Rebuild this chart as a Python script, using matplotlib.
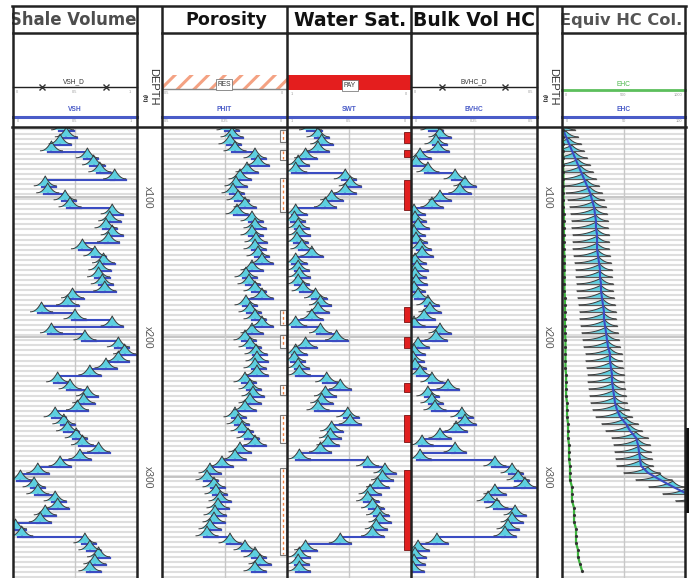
import numpy as np
import matplotlib.pyplot as plt
from matplotlib.patches import Rectangle
from matplotlib.transforms import blended_transform_factory

plt.rcParams['font.family'] = ['Liberation Sans', 'DejaVu Sans']
plt.rcParams['hatch.linewidth'] = 2.2
plt.rcParams['hatch.color'] = '#f4a283'

# ---- data (depth in ft, one reading every 5 ft) ----
depth = [52, 57, 62, 67, 72, 77, 82, 87,
         92, 97, 102, 107, 112, 117, 122, 127,
         132, 137, 142, 147, 152, 157, 162, 167,
         172, 177, 182, 187, 192, 197, 202, 207,
         212, 217, 222, 227, 232, 237, 242, 247,
         252, 257, 262, 267, 272, 277, 282, 287,
         292, 297, 302, 307, 312, 317, 322, 327,
         332, 337, 342, 347, 352, 357, 362, 367]

vsh = [0.40, 0.43, 0.38, 0.31, 0.60, 0.65, 0.70, 0.82,
       0.26, 0.28, 0.42, 0.46, 0.80, 0.78, 0.75, 0.80,
       0.77, 0.56, 0.66, 0.73, 0.70, 0.69, 0.72, 0.74,
       0.48, 0.44, 0.23, 0.50, 0.80, 0.31, 0.58, 0.85,
       0.90, 0.85, 0.75, 0.62, 0.36, 0.46, 0.60, 0.57,
       0.52, 0.34, 0.41, 0.44, 0.51, 0.56, 0.69, 0.54,
       0.38, 0.20, 0.06, 0.17, 0.20, 0.34, 0.36, 0.26,
       0.22, 0.02, 0.07, 0.58, 0.62, 0.69, 0.66, 0.62]

phit = [0.236, 0.220, 0.228, 0.208, 0.128, 0.116, 0.160, 0.188,
        0.204, 0.216, 0.196, 0.168, 0.200, 0.140, 0.128, 0.140,
        0.124, 0.128, 0.116, 0.100, 0.140, 0.164, 0.152, 0.128,
        0.100, 0.164, 0.148, 0.128, 0.100, 0.140, 0.168, 0.148,
        0.124, 0.120, 0.128, 0.120, 0.168, 0.148, 0.136, 0.148,
        0.168, 0.208, 0.196, 0.180, 0.156, 0.128, 0.188, 0.208,
        0.260, 0.308, 0.320, 0.292, 0.284, 0.268, 0.276, 0.288,
        0.292, 0.308, 0.320, 0.228, 0.168, 0.128, 0.108, 0.128]

swt = [0.81, 0.75, 0.72, 0.75, 0.85, 0.91, 0.93, 0.53,
       0.49, 0.53, 0.64, 0.69, 0.93, 0.94, 0.91, 0.90,
       0.92, 0.88, 0.80, 0.93, 0.91, 0.90, 0.91, 0.87,
       0.77, 0.73, 0.75, 0.80, 0.93, 0.73, 0.60, 0.85,
       0.93, 0.94, 0.91, 0.90, 0.68, 0.57, 0.69, 0.72,
       0.75, 0.51, 0.49, 0.64, 0.65, 0.67, 0.73, 0.90,
       0.35, 0.21, 0.23, 0.27, 0.33, 0.35, 0.31, 0.27,
       0.25, 0.28, 0.31, 0.57, 0.85, 0.90, 0.91, 0.90]

bvhc = [0.083, 0.115, 0.099, 0.107, 0.036, 0.020, 0.067, 0.175,
        0.214, 0.194, 0.115, 0.083, 0.012, 0.016, 0.028, 0.012,
        0.020, 0.036, 0.044, 0.016, 0.024, 0.016, 0.020, 0.012,
        0.028, 0.067, 0.075, 0.052, 0.012, 0.115, 0.099, 0.028,
        0.012, 0.008, 0.016, 0.036, 0.083, 0.147, 0.067, 0.083,
        0.095, 0.202, 0.214, 0.179, 0.115, 0.044, 0.175, 0.036,
        0.333, 0.401, 0.425, 0.452, 0.333, 0.306, 0.341, 0.413,
        0.401, 0.385, 0.373, 0.103, 0.028, 0.016, 0.012, 0.008]

ehc = [0.8, 3.3, 5.7, 8.1, 10.6, 13.0, 15.4, 17.9,
       20.3, 22.8, 24.4, 26.0, 26.8, 27.6, 27.6, 28.5,
       28.5, 28.5, 29.3, 30.1, 30.9, 30.9, 31.7, 31.7,
       32.5, 33.3, 34.1, 34.1, 35.0, 35.8, 36.6, 37.4,
       39.0, 39.0, 39.8, 40.7, 40.7, 41.5, 42.3, 43.1,
       44.7, 47.2, 52.0, 55.3, 60.2, 61.8, 62.6, 63.4,
       64.2, 69.9, 79.7, 90.2, 101.6, 112, 122, 133,
       143, 153, 163, 174, 185, 195, 205, 215]

ehc_green = [0.8, 0.8, 0.8, 0.8, 0.8, 0.8, 1.2, 1.2,
             1.2, 1.2, 1.2, 1.2, 1.6, 1.6, 1.6, 1.6,
             1.6, 1.6, 2.0, 2.0, 2.0, 2.0, 2.0, 2.0,
             2.4, 2.4, 2.4, 2.4, 2.4, 2.4, 2.8, 2.8,
             2.8, 2.8, 2.8, 3.3, 3.3, 3.3, 3.3, 4.1,
             4.1, 4.1, 4.9, 4.9, 4.9, 5.7, 5.7, 5.7,
             6.5, 6.5, 6.5, 8.1, 8.1, 8.1, 9.8, 9.8,
             9.8, 11.4, 11.4, 11.4, 13.0, 13.0, 14.6, 16.3]

res_flags = [(52.1, 60.7), (66.4, 73.6), (86.4, 110.7), (180.7, 191.4),
             (198.6, 207.9), (234.3, 241.4), (255.7, 275.7), (293.6, 355.7)]
pay_flags = [(53.6, 61.4), (66.4, 71.4), (87.9, 109.3), (178.6, 189.3),
             (200.0, 207.9), (232.9, 239.3), (255.7, 275.0), (295.0, 352.0)]

titles = ["Shale Volume", "Porosity", "Water Sat.", "Bulk Vol HC", "Equiv HC Col."]
depth_marks = [100, 200, 300]
depth_labels = ["x100", "x200", "x300"]

# ---- layout (pixels) ----
W, H = 689, 578
tracks = [(13, 137), (162, 287), (287, 411), (411, 537), (562, 685)]
depth_cols = [(137, 162), (537, 562)]
TOP, TITLE_BOT, HEAD_BOT = 6, 33, 127
D_TOP = 50.0
PX_FT = 1.4
D_BOT = D_TOP + (H - HEAD_BOT) / PX_FT

BLUE = '#3b4cc2'
HBLUE = '#4a5cc8'
CYAN = '#5ccfe0'
EDGE = '#3a3a3a'

fig = plt.figure(figsize=(W / 100, H / 100), dpi=100)
hdr = fig.add_axes([0, 0, 1, 1], zorder=0)
hdr.set_xlim(0, W)
hdr.set_ylim(H, 0)
hdr.axis('off')


def track_ax(l, r, xlim):
    ax = fig.add_axes([l / W, 0, (r - l) / W, (H - HEAD_BOT) / H], zorder=1)
    ax.set_xlim(*xlim)
    ax.set_ylim(D_BOT, D_TOP)
    ax.axis('off')
    for d in np.arange(D_TOP + 1.2, D_BOT, 3.6):
        ax.axhline(d, color='#dedede', lw=1.5, zorder=0)
    for d in depth_marks:
        ax.axhline(d, color='#bdbdbd', lw=1.2, zorder=0)
    ax.axvline(sum(xlim) / 2, color='#c8c8c8', lw=1, zorder=0)
    return ax


def draw_curve(ax, vals, npx, hl=11, hr=11, hh=7.0, bones=False):
    lo, hi = ax.get_xlim()
    upp = (hi - lo) / npx
    t = np.linspace(-1, 1, 25)
    prof = (1 - np.abs(t)) ** 2.2
    if bones:
        ax.plot(vals, depth, color=BLUE, lw=1.5, zorder=5)
    else:
        ax.plot(vals, np.array(depth) + 0.8, color=BLUE, lw=1.5,
                drawstyle='steps-post', zorder=2)
    for v, d in zip(vals, depth):
        xs = v + np.where(t < 0, t * hl, t * hr) * upp
        ys = d - hh * prof
        if bones:
            ax.plot([v - hl * upp, v + hr * upp], [d, d], color='#5a5a5a', lw=0.9, zorder=4)
        else:
            ax.plot([v - 0.3 * hl * upp, v + 1.0 * hr * upp], [d + 0.7, d + 0.7],
                    color=BLUE, lw=1.6, zorder=2.5)
        ax.fill(xs, ys, color=CYAN, lw=0, zorder=3)
        ax.plot(xs, ys, color=EDGE, lw=0.7, zorder=4)


ax_vsh = track_ax(*tracks[0], (0, 1))
ax_phit = track_ax(*tracks[1], (0.5, 0))
ax_swt = track_ax(*tracks[2], (1, 0))
ax_bvhc = track_ax(*tracks[3], (0, 0.5))
ax_ehc = track_ax(*tracks[4], (0, 100))

draw_curve(ax_vsh, vsh, 124)
draw_curve(ax_phit, phit, 125)
draw_curve(ax_swt, swt, 124)
draw_curve(ax_bvhc, bvhc, 126)
ax_ehc.plot(ehc_green, depth, color='#3cb43c', lw=1.6, zorder=6,
            marker='.', ms=2.5, mfc='#333', mec='#333')
draw_curve(ax_ehc, ehc, 123, hl=24, hr=12, hh=4.0, bones=True)

# flags
tr = blended_transform_factory(ax_phit.transAxes, ax_phit.transData)
for d0, d1 in res_flags:
    ax_phit.add_patch(Rectangle((0.944, d0), 0.05, d1 - d0, transform=tr,
                                facecolor='white', edgecolor='#777', lw=0.8, zorder=6))
    ax_phit.plot([0.969, 0.969], [d0 + 0.6, d1 - 0.6], transform=tr, color='#f08040',
                 lw=1, ls=(0, (2, 2)), zorder=7)
tr = blended_transform_factory(ax_swt.transAxes, ax_swt.transData)
for d0, d1 in pay_flags:
    ax_swt.add_patch(Rectangle((0.944, d0), 0.056, d1 - d0, transform=tr,
                               facecolor='#e11f1f', edgecolor='#7a1010', lw=0.6, zorder=6))

# depth columns
for l, r in depth_cols:
    axd = fig.add_axes([l / W, 0, (r - l) / W, (H - HEAD_BOT) / H], zorder=1)
    axd.set_xlim(0, 1)
    axd.set_ylim(D_BOT, D_TOP)
    axd.axis('off')
    for d, s in zip(depth_marks, depth_labels):
        axd.text(0.45, d, s, rotation=270, ha='center', va='center',
                 fontsize=7.5, color='#555')
    cx = (l + r) / 2
    hdr.text(cx + 4, 87, "DEPTH", rotation=270, ha='center', va='center',
             fontsize=8, color='#333')
    hdr.text(cx - 5, 98, "(ft)", rotation=270, ha='center', va='center',
             fontsize=4.5, color='#222', fontweight='bold')

# ---- headers ----
def tiny(x, y, s):
    hdr.text(x, y, s, fontsize=2.8, color='#9a9a9a', ha='center', va='center')


def small(x, y, s, c='#333', bold=False, box=False):
    kw = dict(boxstyle='square,pad=0.25', fc='white', ec='#666', lw=0.5) if box else None
    hdr.text(x, y, s, fontsize=4.8, color=c, ha='center', va='center',
             fontweight='bold' if bold else 'normal', bbox=kw)


curve_names = ["VSH", "PHIT", "SWT", "BVHC", "EHC"]
scales = [("0", "0.5", "1"), ("0.5", "0.25", "0"), ("1", "0.5", "0"),
          ("0", "0.25", "0.5"), ("0", "50", "100")]
for (l, r), name, sc in zip(tracks, curve_names, scales):
    cx = (l + r) / 2
    small(cx, 109.5, name, c=HBLUE, bold=True)
    hdr.plot([l, r], [117, 117], color=HBLUE, lw=2.2)
    tiny(l + 5, 121.5, sc[0])
    tiny(cx, 121.5, sc[1])
    tiny(r - 6, 121.5, sc[2])

# VSH_D
hdr.plot([13, 137], [87, 87], color='#222', lw=1)
hdr.plot([42, 106], [87, 87], 'x', color='#333', ms=4, mew=1)
small(74, 82, "VSH_D")
for x, s in [(17, "0"), (75, "0.5"), (130, "1")]:
    tiny(x, 92, s)
# RES
hdr.add_patch(Rectangle((163, 75), 124, 13.5, facecolor='white', hatch='//', lw=0))
hdr.plot([162, 287], [89, 89], color='#888', lw=1)
small(224, 84.5, "RES", box=True)
tiny(167, 93, "0.5")
tiny(282, 93, "0")
# PAY
hdr.add_patch(Rectangle((288, 75), 123, 15, facecolor='#e41e1e', lw=0))
small(350, 85.5, "PAY", box=True)
tiny(292, 94, "1")
tiny(406, 94, "0")
# BVHC_D
hdr.plot([411, 537], [87, 87], color='#222', lw=1)
hdr.plot([442, 505], [87, 87], 'x', color='#333', ms=4, mew=1)
small(474, 82, "BVHC_D")
tiny(415, 92, "0")
tiny(531, 92, "0.5")
# EHC green
hdr.plot([562, 685], [90, 90], color='#5cbf5c', lw=2)
small(623, 85, "EHC", c='#4cb84c')
tiny(566, 95, "0")
tiny(623, 95, "500")
tiny(678, 95, "1000")

# black marker at right edge
hdr.add_patch(Rectangle((686, 428), 4, 85, facecolor='#111', lw=0))

# titles, sized to the width they take in the log header
title_geo = [(73, 126, '#4d4d4d'), (226, 82, '#111'), (350, 116, '#111'),
             (474, 122, '#111'), (621, 122, '#555')]
tarts = []
for s, (cx, tw, c) in zip(titles, title_geo):
    t = hdr.text(cx, 20, s, fontsize=12, fontweight='bold', color=c,
                 family='DejaVu Sans', ha='center', va='center')
    tarts.append((t, tw))
fig.canvas.draw()
rend = fig.canvas.get_renderer()
for t, tw in tarts:
    w = t.get_window_extent(rend).width
    t.set_fontsize(min(t.get_fontsize() * tw / w, 13.5))

# ---- frame ----
brd = fig.add_axes([0, 0, 1, 1], zorder=10)
brd.set_xlim(0, W)
brd.set_ylim(H, 0)
brd.axis('off')
fc = '#222'
# white margins hide title overflow outside the frame
brd.add_patch(Rectangle((0, 0), 12, H, facecolor='white', lw=0))
for x in [13, 137, 162, 287, 411, 537, 562, 685]:
    brd.plot([x, x], [TOP, H], color=fc, lw=1.8, solid_capstyle='butt')
brd.plot([12, 686], [TOP, TOP], color=fc, lw=1.8)
brd.plot([12, 686], [HEAD_BOT, HEAD_BOT], color=fc, lw=1.8)
for l, r in tracks:
    brd.plot([l, r], [TITLE_BOT, TITLE_BOT], color=fc, lw=1.8)

fig.savefig('out.png', dpi=100)
